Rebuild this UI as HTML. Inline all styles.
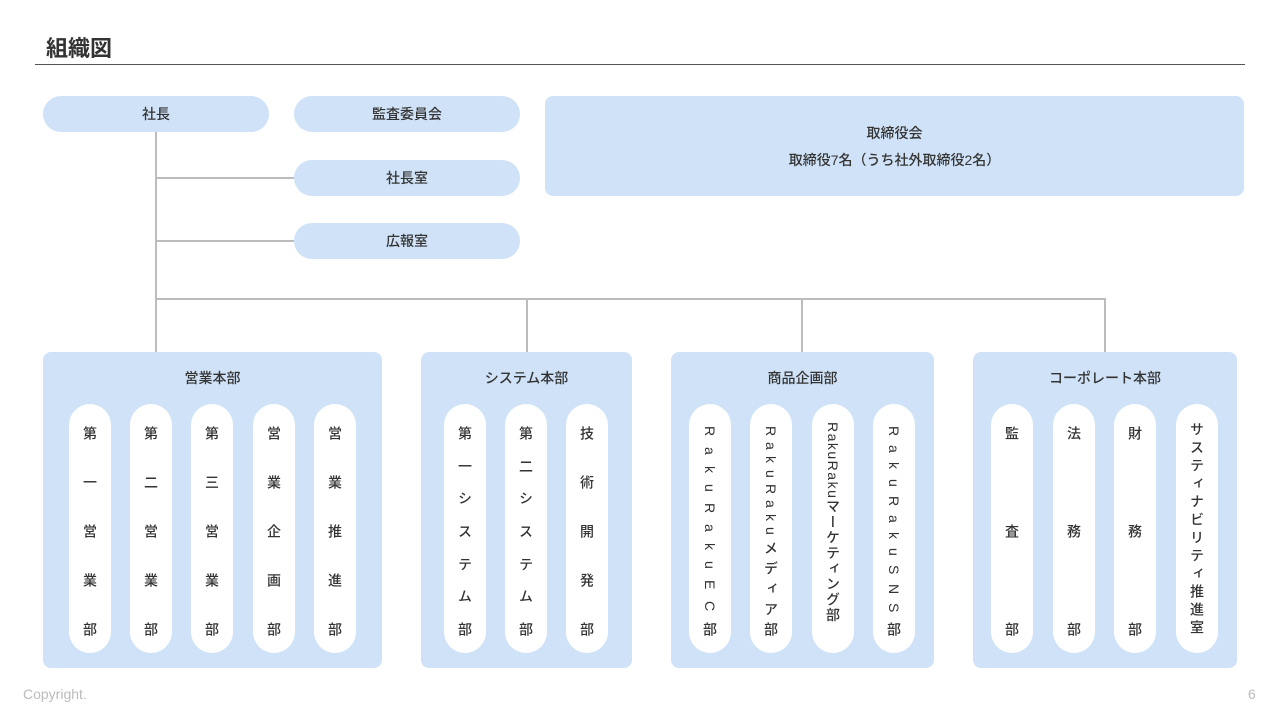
<!DOCTYPE html>
<html><head><meta charset="utf-8"><style>
*{margin:0;padding:0;box-sizing:border-box}
body{width:1280px;height:720px;background:#fff;position:relative;overflow:hidden;font-family:"Liberation Sans","Noto Sans CJK JP",sans-serif;color:#333;font-weight:500}
.a{position:absolute}
.bl{background:#cfe2f7}
.pill{position:absolute;height:36px;border-radius:18px;background:#cfe2f7;display:flex;align-items:center;justify-content:center;font-size:14px}
.ln{position:absolute;background:#bcbcbc}
.grp{position:absolute;top:352px;height:316px;border-radius:8px;background:#cfe2f7}
.gt{position:absolute;top:368px;font-size:14px;text-align:center}
.vp{position:absolute;top:404px;width:42px;height:249px;border-radius:21px;background:#fff;display:flex;flex-direction:column;align-items:center;justify-content:space-between;padding:22px 0 17px;font-size:14px;line-height:16px}
.vp span{writing-mode:vertical-rl;display:block}
.vc{position:absolute;top:404px;width:42px;height:249px;border-radius:21px;background:#fff;display:flex;justify-content:center;padding-top:18px;font-size:14px}
.vc span{writing-mode:vertical-rl}
</style></head><body>
<div class="a" style="left:46px;top:34px;font-size:22px;line-height:30px;font-weight:700">組織図</div>
<div class="a" style="left:35px;top:64px;width:1210px;height:1px;background:#555"></div>

<div class="ln" style="left:155px;top:132px;width:2px;height:220px"></div>
<div class="ln" style="left:156px;top:177px;width:138px;height:2px"></div>
<div class="ln" style="left:156px;top:240px;width:138px;height:2px"></div>
<div class="ln" style="left:155px;top:298px;width:951px;height:2px"></div>
<div class="ln" style="left:526px;top:298px;width:2px;height:54px"></div>
<div class="ln" style="left:801px;top:298px;width:2px;height:54px"></div>
<div class="ln" style="left:1104px;top:298px;width:2px;height:54px"></div>

<div class="pill" style="left:43px;top:96px;width:226px">社長</div>
<div class="pill" style="left:294px;top:96px;width:226px">監査委員会</div>
<div class="pill" style="left:294px;top:160px;width:226px">社長室</div>
<div class="pill" style="left:294px;top:223px;width:226px">広報室</div>
<div class="a bl" style="left:545px;top:96px;width:699px;height:100px;border-radius:8px;font-size:14px;text-align:center;padding-top:24px;line-height:27px">取締役会<br>取締役7名（うち社外取締役2名）</div>

<div class="grp" style="left:43px;width:339px"></div>
<div class="gt" style="left:43px;width:339px">営業本部</div>
<div class="grp" style="left:421px;width:211px"></div>
<div class="gt" style="left:421px;width:211px">システム本部</div>
<div class="grp" style="left:671px;width:263px"></div>
<div class="gt" style="left:671px;width:263px">商品企画部</div>
<div class="grp" style="left:973px;width:264px"></div>
<div class="gt" style="left:973px;width:264px">コーポレート本部</div>

<div class="vp" style="left:69px"><span>第</span><span>一</span><span>営</span><span>業</span><span>部</span></div>
<div class="vp" style="left:130px"><span>第</span><span>二</span><span>営</span><span>業</span><span>部</span></div>
<div class="vp" style="left:191px"><span>第</span><span>三</span><span>営</span><span>業</span><span>部</span></div>
<div class="vp" style="left:253px"><span>営</span><span>業</span><span>企</span><span>画</span><span>部</span></div>
<div class="vp" style="left:314px"><span>営</span><span>業</span><span>推</span><span>進</span><span>部</span></div>

<div class="vp" style="left:444px"><span>第</span><span>一</span><span>シ</span><span>ス</span><span>テ</span><span>ム</span><span>部</span></div>
<div class="vp" style="left:505px"><span>第</span><span>二</span><span>シ</span><span>ス</span><span>テ</span><span>ム</span><span>部</span></div>
<div class="vp" style="left:566px"><span>技</span><span>術</span><span>開</span><span>発</span><span>部</span></div>

<div class="vp" style="left:689px"><span>R</span><span>a</span><span>k</span><span>u</span><span>R</span><span>a</span><span>k</span><span>u</span><span>E</span><span>C</span><span>部</span></div>
<div class="vp" style="left:750px"><span>R</span><span>a</span><span>k</span><span>u</span><span>R</span><span>a</span><span>k</span><span>u</span><span>メ</span><span>デ</span><span>ィ</span><span>ア</span><span>部</span></div>
<div class="vc" style="left:812px"><span style="letter-spacing:1.5px">RakuRakuマーケティング部</span></div>
<div class="vp" style="left:873px"><span>R</span><span>a</span><span>k</span><span>u</span><span>R</span><span>a</span><span>k</span><span>u</span><span>S</span><span>N</span><span>S</span><span>部</span></div>

<div class="vp" style="left:991px"><span>監</span><span>査</span><span>部</span></div>
<div class="vp" style="left:1053px"><span>法</span><span>務</span><span>部</span></div>
<div class="vp" style="left:1114px"><span>財</span><span>務</span><span>部</span></div>
<div class="vc" style="left:1176px"><span style="letter-spacing:4px">サスティナビリティ推進室</span></div>

<div class="a" style="left:23px;top:686px;font-size:14px;color:#bbb">Copyright.</div>
<div class="a" style="left:1248px;top:686px;font-size:14px;color:#bbb">6</div>
</body></html>
